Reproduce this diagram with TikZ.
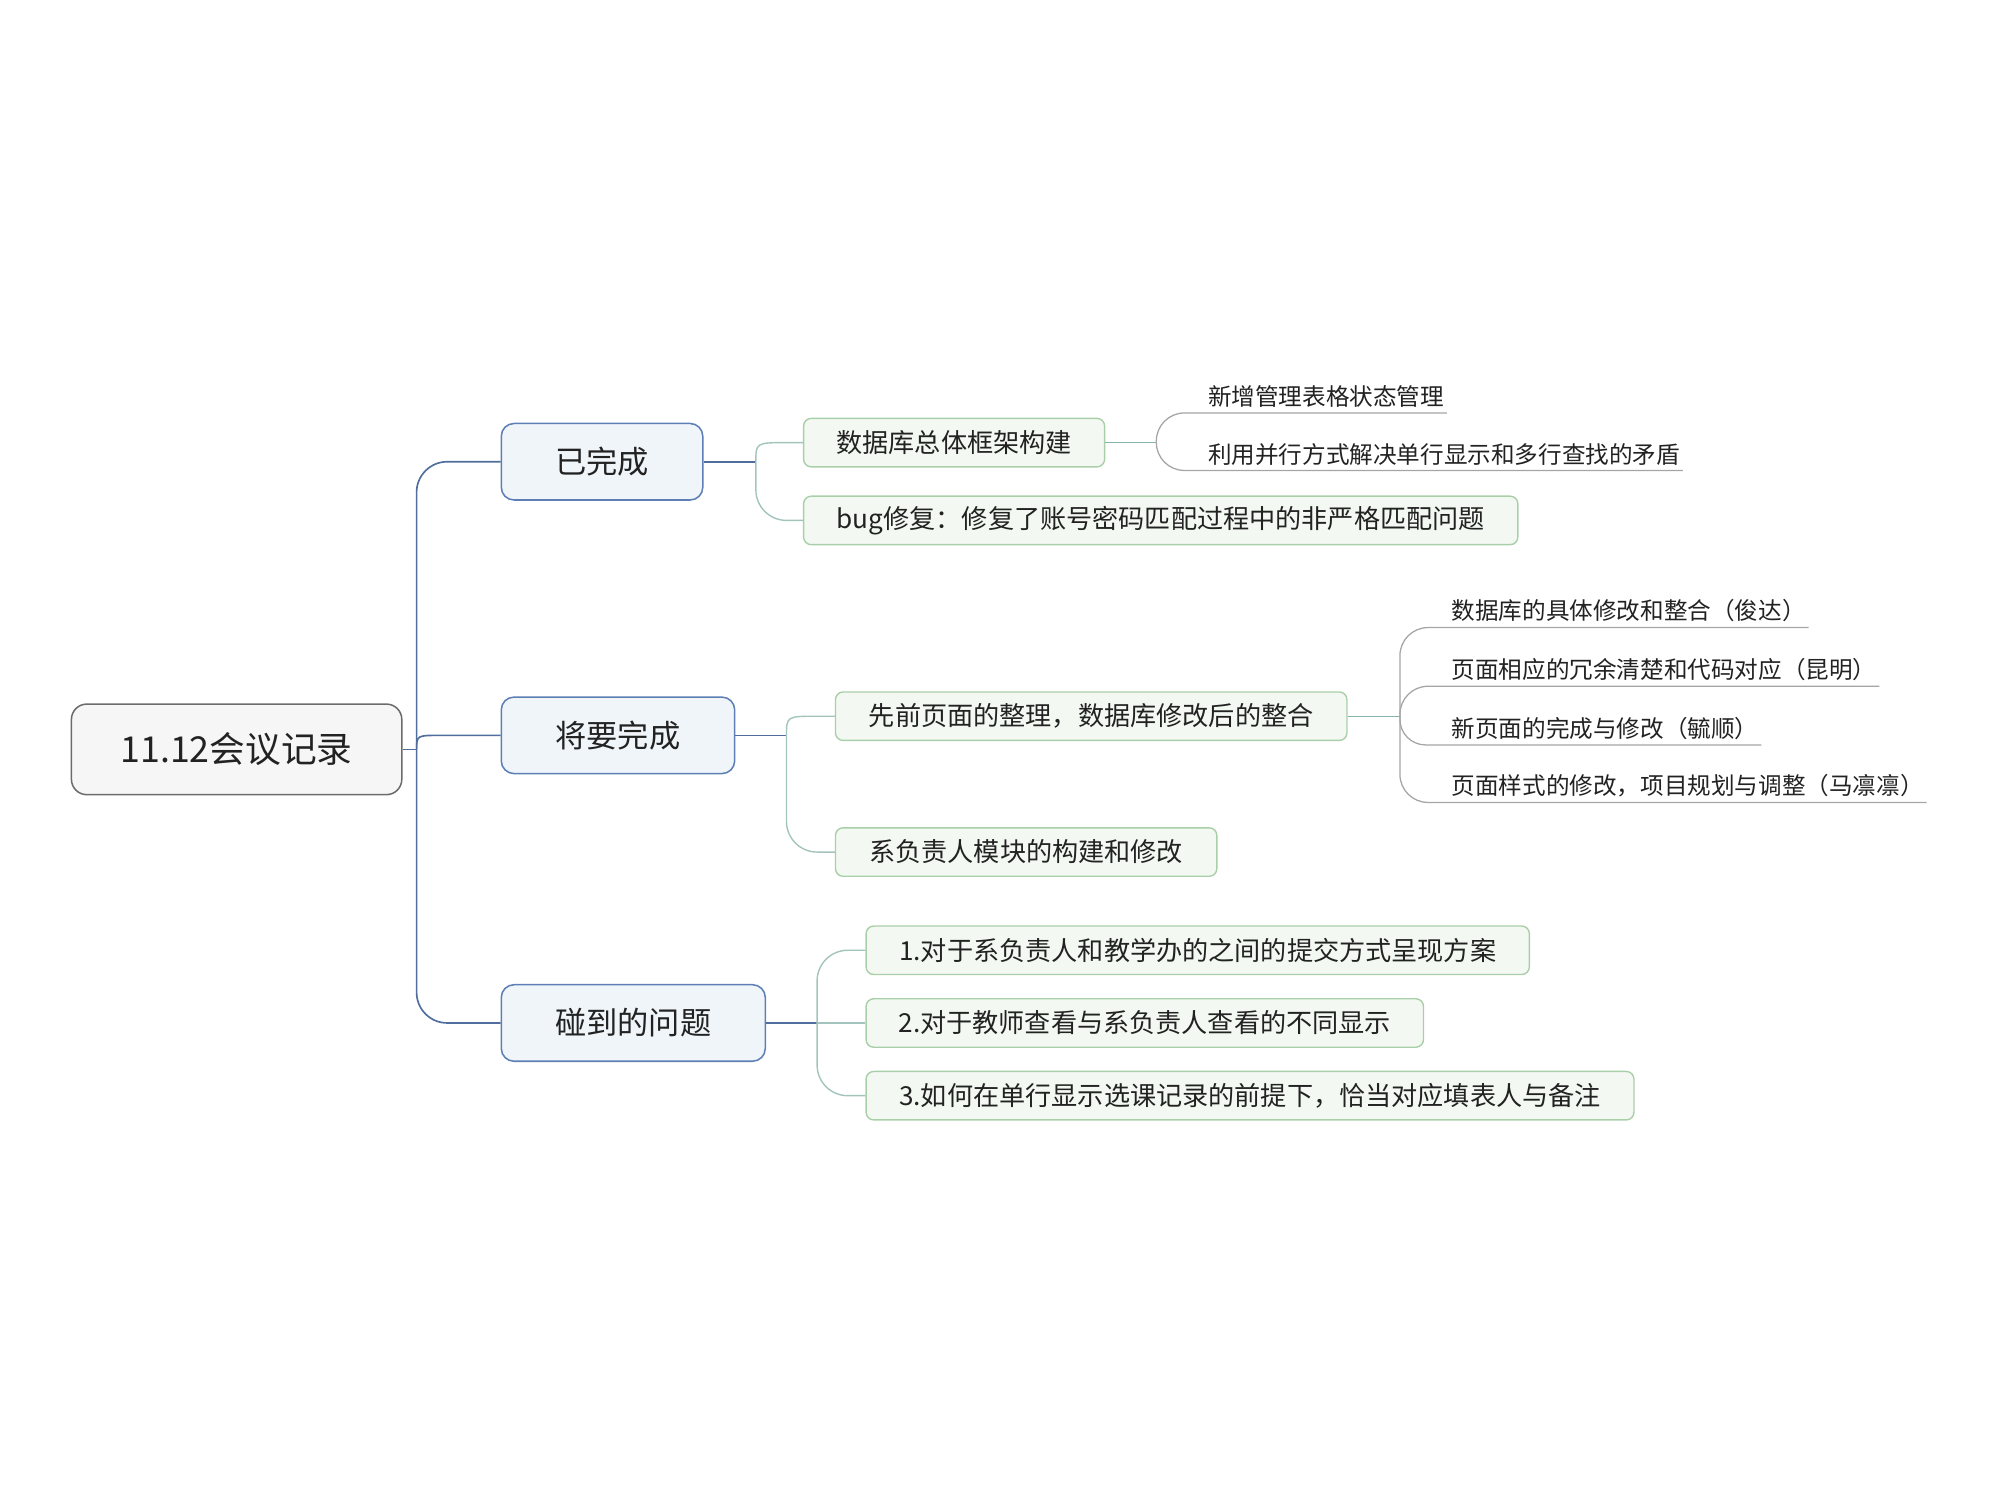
\documentclass[tikz,border=0pt]{standalone}
\usepackage{fontspec}
\setmainfont{Noto Sans CJK SC}
\usetikzlibrary{calc}
\definecolor{txt}{HTML}{222222}
\definecolor{rootborder}{HTML}{6B6B6B}
\definecolor{rootfill}{HTML}{F6F6F6}
\definecolor{mainborder}{HTML}{5E7FB6}
\definecolor{mainfill}{HTML}{F0F5F9}
\definecolor{subborder}{HTML}{A9CFA9}
\definecolor{subfill}{HTML}{F3F9F2}
\definecolor{linemain}{HTML}{4F6E9E}
\definecolor{linesub}{HTML}{A3C4BC}
\definecolor{stubsub}{HTML}{88B4AE}
\definecolor{leafline}{HTML}{A5A5A5}
\tikzset{
  rootbox/.style={draw=rootborder, fill=rootfill, line width=1.2pt, rounded corners=12pt,
    minimum height=71pt, inner sep=0pt, text=txt, font=\fontsize{28}{32}\selectfont},
  mainbox/.style={draw=mainborder, fill=mainfill, line width=1.2pt, rounded corners=10pt,
    minimum height=60pt, inner sep=0pt, text=txt, font=\fontsize{24.5}{28}\selectfont},
  subbox/.style={draw=subborder, fill=subfill, line width=1.1pt, rounded corners=6pt,
    minimum height=38pt, inner sep=0pt, text=txt, font=\fontsize{20.5}{24}\selectfont},
  leaf/.style={inner xsep=0pt, inner ysep=4pt, anchor=west, text=txt, font=\fontsize{18.5}{22}\selectfont},
  c1/.style={draw=linemain, line width=1.3pt},
  c2/.style={draw=linesub, line width=1.1pt},
  c2stub/.style={draw=stubsub, line width=1.1pt},
  c3/.style={draw=leafline, line width=1pt},
}
\begin{document}
\begin{tikzpicture}[x=1pt, y=-1pt]
\useasboundingbox (0,0) rectangle (1568,1176);
% nodes
\node[rootbox, minimum width=259pt] (root) at (185.5,587.5) {11.12会议记录};
\node[mainbox, minimum width=158pt] (b1) at (472,362) {已完成};
\node[mainbox, minimum width=183pt] (b2) at (484.5,576.5) {将要完成};
\node[mainbox, minimum width=207pt] (b3) at (496.5,802) {碰到的问题};

\node[subbox, minimum width=236pt] (c11) at (748,347) {数据库总体框架构建};
\node[subbox, minimum width=560pt] (c12) at (910,408) {bug修复：修复了账号密码匹配过程中的非严格匹配问题};
\node[subbox, minimum width=401pt] (c21) at (855.5,561.5) {先前页面的整理，数据库修改后的整合};
\node[subbox, minimum width=299pt] (c22) at (804.5,668) {系负责人模块的构建和修改};
\node[subbox, minimum width=520pt] (c31) at (939,745) {1.对于系负责人和教学办的之间的提交方式呈现方案};
\node[subbox, minimum width=437pt] (c32) at (897.5,802) {2.对于教师查看与系负责人查看的不同显示};
\node[subbox, minimum width=602pt] (c33) at (980,859) {3.如何在单行显示选课记录的前提下，恰当对应填表人与备注};

\node[leaf] (d11) at (947,311) {新增管理表格状态管理};
\node[leaf] (d12) at (947,356) {利用并行方式解决单行显示和多行查找的矛盾};
\node[leaf] (d21) at (1138,479) {数据库的具体修改和整合（俊达）};
\node[leaf] (d22) at (1138,525) {页面相应的冗余清楚和代码对应（昆明）};
\node[leaf] (d23) at (1138,571) {新页面的完成与修改（毓顺）};
\node[leaf] (d24) at (1138,616) {页面样式的修改，项目规划与调整（马凛凛）};

% junctions
\coordinate (j0) at ([xshift=11pt]root.east);
\coordinate (j1) at ([xshift=41pt]b1.east);
\coordinate (j2) at ([xshift=40pt]b2.east);
\coordinate (j3) at ([xshift=40pt]b3.east);
\coordinate (j4) at ([xshift=40pt]c11.east);
\coordinate (j5) at ([xshift=41pt]c21.east);

% root connectors
\draw[c1] (root.east) -- (j0);
\draw[c1, rounded corners=24pt] (j0) |- (b1.west);
\draw[c1] (j0) .. controls (j0 |- b2.west) .. ([xshift=20pt]j0 |- b2.west) -- (b2.west);
\draw[c1, rounded corners=24pt] (j0) |- (b3.west);

% level 2 connectors
\draw[c1] (b1.east) -- (j1);
\draw[c2] (j1) .. controls (j1 |- c11.west) .. ([xshift=25pt]j1 |- c11.west) -- (c11.west);
\draw[c2, rounded corners=24pt] (j1) |- (c12.west);

\draw[c1] (b2.east) -- (j2);
\draw[c2] (j2) .. controls (j2 |- c21.west) .. ([xshift=25pt]j2 |- c21.west) -- (c21.west);
\draw[c2, rounded corners=24pt] (j2) |- (c22.west);

\draw[c1] (b3.east) -- (j3);
\draw[c2, rounded corners=24pt] (j3) |- (c31.west);
\draw[c2] (j3) -- (c32.west);
\draw[c2, rounded corners=24pt] (j3) |- (c33.west);

% level 3 connectors
\draw[c2stub] (c11.east) -- (j4);
\draw[c3, rounded corners=22pt] (j4) |- ([xshift=2pt]d11.south east);
\draw[c3, rounded corners=22pt] (j4) |- ([xshift=2pt]d12.south east);

\draw[c2stub] (c21.east) -- (j5);
\draw[c3, rounded corners=22pt] (j5) |- ([xshift=2pt]d21.south east);
\draw[c3, rounded corners=22pt] (j5) |- ([xshift=2pt]d22.south east);
\draw[c3, rounded corners=20pt] (j5) |- ([xshift=2pt]d23.south east);
\draw[c3, rounded corners=22pt] (j5) |- ([xshift=2pt]d24.south east);
\end{tikzpicture}
\end{document}
